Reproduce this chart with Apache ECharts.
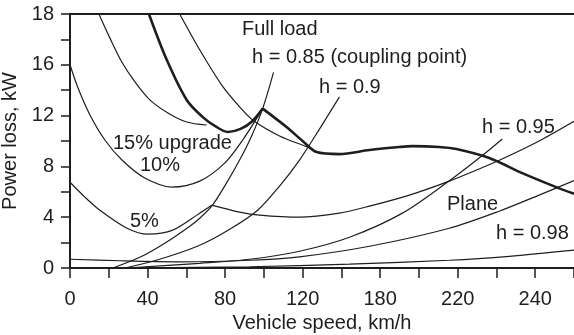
<!DOCTYPE html>
<html>
<head>
<meta charset="utf-8">
<script src="https://cdn.jsdelivr.net/npm/echarts@6/dist/echarts.min.js"></script>
<style>
html, body { margin: 0; padding: 0; background: #fff; }
#chart { width: 574px; height: 335px; }
</style>
</head>
<body>
<div id="chart"></div>
<script>
// tick labels as printed on the figure (spacing is even)
var xTickLabels = ['0', '40', '80', '120', '180', '220', '240'];
var yTickLabels = ['0', '4', '8', '12', '16', '18'];

// curves, [speed position, loss position]
var upgrade15 = [[14.9, 20], [20.6, 18.1], [26.8, 16.2], [33.5, 14.66], [41.2, 13.24], [50.5, 12.21], [60.2, 11.5], [70.5, 11.26]];
var upgrade10 = [[0, 16.0], [4.1, 14.19], [10.3, 12.05], [18.0, 10.08], [26.8, 8.5], [38.6, 7.08], [52.5, 6.37], [66.9, 6.84], [79.8, 8.26], [89.1, 10.08], [99.4, 12.55]];
var upgrade5 = [[0, 6.75], [7.7, 5.58], [15.4, 4.55], [29.4, 3.13], [40.2, 2.66], [53.0, 2.98], [66.9, 4.32], [73.1, 4.95]];
var upgrade5Coupling = [[73.1, 4.95], [87.5, 4.4], [97.8, 4.16], [118.4, 4.0], [139, 4.32], [154.5, 4.87], [175.1, 5.74], [195.7, 6.84], [212.2, 7.87], [224, 8.66], [242, 10.0], [260, 11.55]];
var plane = [[0, 0.69], [25.7, 0.57], [56.6, 0.49], [92.7, 0.61], [118.4, 0.88], [154.5, 1.71], [195.7, 3.13], [221.4, 4.47], [242, 5.74], [260, 6.88]];
var fullLoadThin = [[56.6, 20], [66.9, 17.18], [78.3, 14.4], [87.5, 12.68], [94.2, 11.66], [108.1, 10.4], [123.6, 9.45], [127.2, 9.13]];
var fullLoadA = [[40.7, 20], [49.9, 16.39], [60.2, 13.23], [68.5, 11.88], [74.7, 11.19], [81.4, 10.71], [88, 10.95], [94.2, 11.58], [99.4, 12.55]];
var fullLoadB = [[99.4, 12.55], [111.7, 11.1], [120, 10.0], [127.2, 9.13], [139, 8.97], [154.5, 9.29], [169.9, 9.53], [176.6, 9.6], [190.5, 9.53], [199.3, 9.37], [216.3, 8.66], [233.3, 7.47], [250.8, 6.37], [260, 5.85]];
var h085 = [[22.1, 0], [36.0, 0.84], [48.9, 1.95], [61.8, 3.29], [66.9, 3.92], [73.1, 4.87], [79.8, 6.45], [87.5, 8.5], [93.7, 10.4], [99.4, 12.55], [105.0, 15.4]];
var h09 = [[28.3, 0], [46.3, 0.69], [66.9, 1.79], [82.4, 3.05], [96.8, 4.55], [108.1, 6.45], [118.4, 8.5], [128.7, 10.94], [139.0, 13.47]];
var h095 = [[29.4, 0], [66.9, 0.37], [92.7, 0.69], [118.4, 1.32], [144.2, 2.42], [171.5, 4.32], [194.1, 6.69], [211.1, 8.66], [223.0, 10.16]];
var h098 = [[28.3, 0], [92.7, 0.1], [144.2, 0.3], [195.7, 0.61], [226.6, 0.92], [260, 1.4]];

var ink = '#1e1e1e';
var font = '"Liberation Sans", Arial, Helvetica, sans-serif';

function curve(data, width) {
  return {
    type: 'line',
    data: data,
    smooth: 0.3,
    symbol: 'none',
    lineStyle: { color: ink, width: width || 1.2 },
    z: width ? 3 : 2
  };
}

function note(text, x, y) {
  return {
    type: 'text',
    x: x,
    y: y,
    style: { text: text, fill: ink, font: '20px ' + font, verticalAlign: 'middle' }
  };
}

var option = {
  animation: false,
  backgroundColor: '#fff',
  grid: { left: 70, right: 0, top: 14, bottom: 67, containLabel: false, outerBoundsMode: 'none' },
  xAxis: [{
    type: 'value',
    min: 0,
    max: 260,
    interval: 20,
    name: 'Vehicle speed, km/h',
    nameLocation: 'middle',
    nameGap: 40,
    nameTextStyle: { color: ink, fontSize: 20, fontFamily: font },
    axisLine: { lineStyle: { color: ink, width: 2 } },
    axisTick: { inside: false, length: 10, lineStyle: { color: ink, width: 1.5 } },
    axisLabel: {
      color: ink, fontSize: 20, fontFamily: font, margin: 21,
      formatter: function (v) { return v % 40 === 0 ? xTickLabels[v / 40] : ''; }
    },
    splitLine: { show: false }
  }, {
    type: 'value',
    position: 'top',
    min: 0,
    max: 260,
    axisLine: { show: true, lineStyle: { color: ink, width: 2 } },
    axisTick: { show: false },
    axisLabel: { show: false },
    splitLine: { show: false }
  }],
  yAxis: {
    type: 'value',
    min: 0,
    max: 20,
    interval: 2,
    name: 'Power loss, kW',
    nameLocation: 'middle',
    nameGap: 43,
    nameTextStyle: { color: ink, fontSize: 20, fontFamily: font },
    axisLine: { show: true, lineStyle: { color: ink, width: 2 } },
    axisTick: { show: true, inside: false, length: 9, lineStyle: { color: ink, width: 1.5 } },
    axisLabel: {
      color: ink, fontSize: 20, fontFamily: font, margin: 16,
      formatter: function (v) { return v % 4 === 0 ? yTickLabels[v / 4] : ''; }
    },
    splitLine: { show: false }
  },
  series: [
    curve(upgrade15),
    curve(upgrade10),
    curve(upgrade5),
    curve(upgrade5Coupling),
    curve(plane),
    curve(fullLoadThin),
    curve(h085),
    curve(h09),
    curve(h095),
    curve(h098),
    curve(fullLoadA, 2.6),
    curve(fullLoadB, 2.6)
  ],
  graphic: [
    note('Full load', 242, 29),
    note('h = 0.85 (coupling point)', 252, 57),
    note('h = 0.9', 319, 87),
    note('h = 0.95', 482, 127),
    note('15% upgrade', 113, 143),
    note('10%', 140, 165),
    note('5%', 130, 221),
    note('Plane', 447, 204),
    note('h = 0.98', 496, 233)
  ]
};

var myChart = echarts.init(document.getElementById('chart'));
myChart.setOption(option, true);
</script>
</body>
</html>
